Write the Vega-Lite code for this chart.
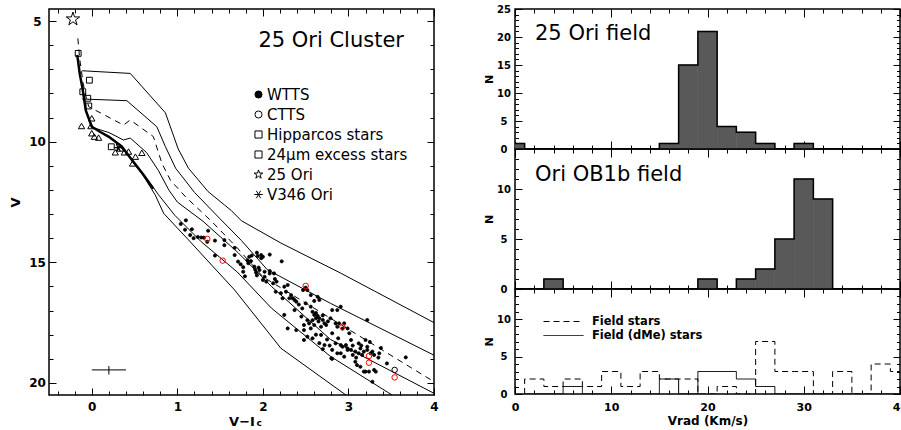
{
  "$schema": "https://vega.github.io/schema/vega-lite/v6.json",
  "background": "white",
  "padding": {"left": 8, "top": 3, "right": 0, "bottom": 0},
  "bounds": "flush",
  "spacing": 81,
  "resolve": {"scale": {"strokeDash": "independent", "shape": "independent", "fill": "independent", "stroke": "independent"}, "legend": {"strokeDash": "independent", "shape": "independent", "fill": "independent", "stroke": "independent"}},
  "config": {
    "view": {"stroke": "black", "strokeWidth": 1.5},
    "font": "DejaVu Sans",
    "axis": {"domain": false, "grid": false, "tickColor": "black", "tickWidth": 1, "labelColor": "black", "titleColor": "black", "labelFont": "DejaVu Sans", "titleFont": "DejaVu Sans", "labelFontWeight": "bold", "titleFontWeight": "bold", "labelAngle": 0, "labelFlush": false, "labelOverlap": false, "labelBound": false},
    "title": {"color": "black", "font": "DejaVu Sans", "fontWeight": "normal"},
    "legend": {"labelColor": "black", "labelFont": "DejaVu Sans", "titleColor": "black"}
  },
  "datasets": {
    "iso": [
      {"id": "A", "x": -0.113, "v": 7.06}, {"id": "A", "x": 0.45, "v": 7.17}, {"id": "A", "x": 0.86, "v": 8.8}, {"id": "A", "x": 1.01, "v": 10.3}, {"id": "A", "x": 1.13, "v": 11.1}, {"id": "A", "x": 1.36, "v": 12.07}, {"id": "A", "x": 1.55, "v": 12.62}, {"id": "A", "x": 1.63, "v": 12.85}, {"id": "A", "x": 1.75, "v": 13.28}, {"id": "A", "x": 2.21, "v": 14.2}, {"id": "A", "x": 2.91, "v": 15.45}, {"id": "A", "x": 4.0, "v": 17.5},
      {"id": "B", "x": -0.113, "v": 8.23}, {"id": "B", "x": 0.41, "v": 8.3}, {"id": "B", "x": 0.76, "v": 9.38}, {"id": "B", "x": 0.86, "v": 10.2}, {"id": "B", "x": 0.98, "v": 11.1}, {"id": "B", "x": 1.2, "v": 12.1}, {"id": "B", "x": 1.5, "v": 13.2}, {"id": "B", "x": 1.75, "v": 14.1}, {"id": "B", "x": 2.05, "v": 15.3}, {"id": "B", "x": 2.79, "v": 16.7}, {"id": "B", "x": 4.0, "v": 18.85},
      {"id": "D", "x": 0.0, "v": 9.4}, {"id": "D", "x": 0.2, "v": 9.62}, {"id": "D", "x": 0.37, "v": 9.93}, {"id": "D", "x": 0.45, "v": 9.85}, {"id": "D", "x": 0.64, "v": 10.45}, {"id": "D", "x": 0.78, "v": 11.2}, {"id": "D", "x": 0.9, "v": 12.0}, {"id": "D", "x": 1.0, "v": 12.5}, {"id": "D", "x": 1.3, "v": 13.3}, {"id": "D", "x": 1.71, "v": 14.6}, {"id": "D", "x": 2.1, "v": 16.0}, {"id": "D", "x": 2.79, "v": 18.2}, {"id": "D", "x": 4.0, "v": 20.43},
      {"id": "E", "x": 0.47, "v": 10.76}, {"id": "E", "x": 0.6, "v": 11.35}, {"id": "E", "x": 0.72, "v": 11.9}, {"id": "E", "x": 0.78, "v": 12.2}, {"id": "E", "x": 0.97, "v": 13.05}, {"id": "E", "x": 1.28, "v": 14.15}, {"id": "E", "x": 1.7, "v": 15.4}, {"id": "E", "x": 2.1, "v": 16.9}, {"id": "E", "x": 2.79, "v": 18.9}, {"id": "E", "x": 3.51, "v": 20.5},
      {"id": "F", "x": 0.47, "v": 10.8}, {"id": "F", "x": 0.6, "v": 11.4}, {"id": "F", "x": 0.74, "v": 12.2}, {"id": "F", "x": 0.84, "v": 12.97}, {"id": "F", "x": 1.13, "v": 14.07}, {"id": "F", "x": 1.67, "v": 16.15}, {"id": "F", "x": 2.21, "v": 18.56}, {"id": "F", "x": 2.97, "v": 20.5}
    ],
    "dash": [
      {"x": -0.163, "v": 5.72}, {"x": -0.14, "v": 6.6}, {"x": -0.1, "v": 7.6}, {"x": -0.06, "v": 8.25}, {"x": -0.035, "v": 8.55}, {"x": 0.37, "v": 9.31}, {"x": 0.45, "v": 9.1}, {"x": 0.72, "v": 9.79}, {"x": 0.82, "v": 10.9}, {"x": 0.92, "v": 11.6}, {"x": 1.1, "v": 12.3}, {"x": 1.4, "v": 13.3}, {"x": 1.7, "v": 14.4}, {"x": 2.0, "v": 15.6}, {"x": 2.79, "v": 17.32}, {"x": 4.0, "v": 19.95}
    ],
    "zams": [
      {"x": -0.17, "v": 6.4}, {"x": -0.14, "v": 7.2}, {"x": -0.11, "v": 7.75}, {"x": -0.07, "v": 8.7}, {"x": 0.0, "v": 9.38}, {"x": 0.1, "v": 9.6}, {"x": 0.2, "v": 9.8}, {"x": 0.35, "v": 10.2}, {"x": 0.47, "v": 10.76}, {"x": 0.6, "v": 11.35}, {"x": 0.72, "v": 11.95}
    ],
    "wtts": [
      {"x": 1.04, "v": 13.41, "type": "WTTS"}, {"x": 1.1, "v": 13.26, "type": "WTTS"}, {"x": 1.09, "v": 13.65, "type": "WTTS"}, {"x": 1.17, "v": 13.63, "type": "WTTS"}, {"x": 1.15, "v": 13.87, "type": "WTTS"}, {"x": 1.19, "v": 14.0, "type": "WTTS"}, {"x": 1.24, "v": 13.95, "type": "WTTS"}, {"x": 1.28, "v": 13.97, "type": "WTTS"}, {"x": 1.31, "v": 13.98, "type": "WTTS"}, {"x": 1.36, "v": 13.69, "type": "WTTS"}, {"x": 1.35, "v": 14.15, "type": "WTTS"}, {"x": 1.44, "v": 14.1, "type": "WTTS"}, {"x": 1.55, "v": 14.08, "type": "WTTS"}, {"x": 1.55, "v": 14.29, "type": "WTTS"}, {"x": 1.44, "v": 14.72, "type": "WTTS"},
      {"x": 1.67, "v": 14.4, "type": "WTTS"}, {"x": 1.67, "v": 14.7, "type": "WTTS"}, {"x": 1.71, "v": 14.97, "type": "WTTS"}, {"x": 1.74, "v": 15.08, "type": "WTTS"}, {"x": 1.77, "v": 15.2, "type": "WTTS"}, {"x": 1.77, "v": 15.39, "type": "WTTS"}, {"x": 1.79, "v": 15.58, "type": "WTTS"}, {"x": 1.83, "v": 15.04, "type": "WTTS"}, {"x": 1.82, "v": 14.92, "type": "WTTS"}, {"x": 1.84, "v": 14.77, "type": "WTTS"}, {"x": 1.87, "v": 14.72, "type": "WTTS"}, {"x": 1.86, "v": 14.95, "type": "WTTS"}, {"x": 1.93, "v": 14.6, "type": "WTTS"}, {"x": 1.94, "v": 14.74, "type": "WTTS"}, {"x": 1.98, "v": 14.7, "type": "WTTS"}, {"x": 1.98, "v": 14.83, "type": "WTTS"}, {"x": 2.0, "v": 14.77, "type": "WTTS"}, {"x": 2.08, "v": 14.68, "type": "WTTS"}, {"x": 2.22, "v": 14.96, "type": "WTTS"},
      {"x": 1.9, "v": 15.18, "type": "WTTS"}, {"x": 1.91, "v": 15.3, "type": "WTTS"}, {"x": 1.92, "v": 15.42, "type": "WTTS"}, {"x": 1.93, "v": 15.54, "type": "WTTS"}, {"x": 1.96, "v": 15.32, "type": "WTTS"}, {"x": 1.95, "v": 15.22, "type": "WTTS"}, {"x": 2.02, "v": 15.39, "type": "WTTS"}, {"x": 2.02, "v": 15.6, "type": "WTTS"}, {"x": 2.04, "v": 15.8, "type": "WTTS"}, {"x": 2.08, "v": 15.46, "type": "WTTS"}, {"x": 2.13, "v": 15.46, "type": "WTTS"}, {"x": 2.08, "v": 15.36, "type": "WTTS"}, {"x": 2.0, "v": 15.73, "type": "WTTS"}, {"x": 2.12, "v": 15.87, "type": "WTTS"}, {"x": 2.14, "v": 15.69, "type": "WTTS"}, {"x": 2.16, "v": 15.8, "type": "WTTS"},
      {"x": 2.15, "v": 16.22, "type": "WTTS"}, {"x": 2.25, "v": 16.01, "type": "WTTS"}, {"x": 2.27, "v": 16.22, "type": "WTTS"}, {"x": 2.29, "v": 15.94, "type": "WTTS"}, {"x": 2.21, "v": 16.28, "type": "WTTS"}, {"x": 2.33, "v": 16.36, "type": "WTTS"}, {"x": 2.37, "v": 16.56, "type": "WTTS"}, {"x": 2.39, "v": 16.63, "type": "WTTS"}, {"x": 2.35, "v": 16.49, "type": "WTTS"}, {"x": 2.31, "v": 16.49, "type": "WTTS"}, {"x": 2.23, "v": 16.49, "type": "WTTS"}, {"x": 2.47, "v": 16.15, "type": "WTTS"}, {"x": 2.52, "v": 16.15, "type": "WTTS"}, {"x": 2.56, "v": 16.36, "type": "WTTS"}, {"x": 2.64, "v": 16.43, "type": "WTTS"}, {"x": 2.66, "v": 16.56, "type": "WTTS"}, {"x": 2.5, "v": 16.05, "type": "WTTS"},
      {"x": 2.37, "v": 16.98, "type": "WTTS"}, {"x": 2.46, "v": 16.91, "type": "WTTS"}, {"x": 2.56, "v": 16.84, "type": "WTTS"}, {"x": 2.62, "v": 17.32, "type": "WTTS"}, {"x": 2.6, "v": 17.18, "type": "WTTS"}, {"x": 2.66, "v": 17.32, "type": "WTTS"}, {"x": 2.7, "v": 17.39, "type": "WTTS"}, {"x": 2.72, "v": 17.53, "type": "WTTS"}, {"x": 2.68, "v": 17.67, "type": "WTTS"}, {"x": 2.74, "v": 17.6, "type": "WTTS"}, {"x": 2.81, "v": 16.98, "type": "WTTS"}, {"x": 2.87, "v": 16.98, "type": "WTTS"}, {"x": 2.89, "v": 17.53, "type": "WTTS"}, {"x": 2.95, "v": 17.53, "type": "WTTS"}, {"x": 2.99, "v": 17.74, "type": "WTTS"}, {"x": 2.25, "v": 17.18, "type": "WTTS"}, {"x": 2.29, "v": 17.74, "type": "WTTS"}, {"x": 2.45, "v": 17.25, "type": "WTTS"}, {"x": 2.54, "v": 17.53, "type": "WTTS"}, {"x": 2.56, "v": 17.74, "type": "WTTS"}, {"x": 2.79, "v": 17.32, "type": "WTTS"},
      {"x": 2.58, "v": 17.05, "type": "WTTS"}, {"x": 2.62, "v": 17.1, "type": "WTTS"}, {"x": 2.64, "v": 17.22, "type": "WTTS"}, {"x": 2.58, "v": 17.4, "type": "WTTS"}, {"x": 2.65, "v": 17.45, "type": "WTTS"}, {"x": 2.6, "v": 17.6, "type": "WTTS"}, {"x": 2.7, "v": 17.2, "type": "WTTS"}, {"x": 2.52, "v": 17.4, "type": "WTTS"}, {"x": 2.48, "v": 17.6, "type": "WTTS"}, {"x": 2.76, "v": 17.45, "type": "WTTS"}, {"x": 2.42, "v": 16.75, "type": "WTTS"}, {"x": 2.5, "v": 16.7, "type": "WTTS"}, {"x": 2.6, "v": 16.6, "type": "WTTS"}, {"x": 2.91, "v": 16.84, "type": "WTTS"}, {"x": 3.22, "v": 17.39, "type": "WTTS"}, {"x": 2.85, "v": 17.53, "type": "WTTS"}, {"x": 2.87, "v": 17.67, "type": "WTTS"}, {"x": 2.93, "v": 17.75, "type": "WTTS"},
      {"x": 2.48, "v": 17.81, "type": "WTTS"}, {"x": 2.39, "v": 17.81, "type": "WTTS"}, {"x": 2.52, "v": 18.08, "type": "WTTS"}, {"x": 2.48, "v": 18.22, "type": "WTTS"}, {"x": 2.58, "v": 18.15, "type": "WTTS"}, {"x": 2.68, "v": 18.01, "type": "WTTS"}, {"x": 2.72, "v": 18.43, "type": "WTTS"}, {"x": 2.81, "v": 18.63, "type": "WTTS"}, {"x": 2.8, "v": 18.98, "type": "WTTS"}, {"x": 2.91, "v": 18.77, "type": "WTTS"}, {"x": 2.93, "v": 18.5, "type": "WTTS"}, {"x": 2.99, "v": 18.57, "type": "WTTS"}, {"x": 3.03, "v": 18.22, "type": "WTTS"}, {"x": 3.03, "v": 18.63, "type": "WTTS"}, {"x": 3.05, "v": 18.84, "type": "WTTS"}, {"x": 3.08, "v": 18.7, "type": "WTTS"}, {"x": 3.12, "v": 18.77, "type": "WTTS"}, {"x": 3.14, "v": 18.57, "type": "WTTS"}, {"x": 3.16, "v": 18.84, "type": "WTTS"}, {"x": 3.22, "v": 18.5, "type": "WTTS"}, {"x": 3.2, "v": 18.22, "type": "WTTS"}, {"x": 3.26, "v": 18.77, "type": "WTTS"}, {"x": 3.3, "v": 18.84, "type": "WTTS"},
      {"x": 3.1, "v": 19.26, "type": "WTTS"}, {"x": 3.14, "v": 19.33, "type": "WTTS"}, {"x": 3.2, "v": 19.53, "type": "WTTS"}, {"x": 3.24, "v": 19.53, "type": "WTTS"}, {"x": 3.32, "v": 19.53, "type": "WTTS"}, {"x": 3.28, "v": 19.95, "type": "WTTS"}, {"x": 3.45, "v": 19.19, "type": "WTTS"}, {"x": 3.67, "v": 18.94, "type": "WTTS"}, {"x": 2.81, "v": 17.94, "type": "WTTS"}, {"x": 2.85, "v": 18.36, "type": "WTTS"}, {"x": 2.91, "v": 18.43, "type": "WTTS"}, {"x": 3.01, "v": 17.94, "type": "WTTS"}, {"x": 2.97, "v": 18.43, "type": "WTTS"}, {"x": 2.99, "v": 18.63, "type": "WTTS"}, {"x": 3.12, "v": 18.36, "type": "WTTS"}, {"x": 3.18, "v": 18.7, "type": "WTTS"}, {"x": 3.22, "v": 18.63, "type": "WTTS"}, {"x": 3.28, "v": 18.7, "type": "WTTS"}, {"x": 3.36, "v": 18.77, "type": "WTTS"}, {"x": 3.18, "v": 19.53, "type": "WTTS"}, {"x": 3.3, "v": 19.46, "type": "WTTS"},
      {"x": 2.87, "v": 18.77, "type": "WTTS"}, {"x": 2.81, "v": 19.0, "type": "WTTS"}, {"x": 2.95, "v": 18.91, "type": "WTTS"}, {"x": 3.08, "v": 19.12, "type": "WTTS"}, {"x": 2.62, "v": 18.0, "type": "WTTS"}, {"x": 2.75, "v": 18.2, "type": "WTTS"}, {"x": 2.88, "v": 18.15, "type": "WTTS"}, {"x": 2.66, "v": 18.35, "type": "WTTS"}, {"x": 2.78, "v": 18.45, "type": "WTTS"}, {"x": 3.05, "v": 18.45, "type": "WTTS"}, {"x": 3.15, "v": 18.45, "type": "WTTS"}, {"x": 3.25, "v": 18.3, "type": "WTTS"}, {"x": 3.09, "v": 18.95, "type": "WTTS"}, {"x": 2.7, "v": 18.6, "type": "WTTS"}, {"x": 3.35, "v": 18.95, "type": "WTTS"}, {"x": 3.38, "v": 18.55, "type": "WTTS"}
    ],
    "ctts": [
      {"x": 1.35, "v": 14.03, "cls": "CTTS1"}, {"x": 1.53, "v": 14.93, "cls": "CTTS1"}, {"x": 2.5, "v": 15.98, "cls": "CTTS1"}, {"x": 2.93, "v": 17.67, "cls": "CTTS1"}, {"x": 3.24, "v": 18.88, "cls": "CTTS1"}, {"x": 3.24, "v": 19.16, "cls": "CTTS1"}, {"x": 3.54, "v": 19.77, "cls": "CTTS1"}, {"x": 3.54, "v": 19.46, "cls": "CTTS2"}
    ],
    "hip": [
      {"x": -0.159, "v": 6.34}, {"x": -0.028, "v": 7.45}, {"x": -0.105, "v": 7.93}, {"x": -0.047, "v": 8.2}, {"x": -0.035, "v": 8.52}, {"x": 0.228, "v": 10.21}
    ],
    "tri": [
      {"x": 0.0, "v": 9.03}, {"x": -0.12, "v": 9.35}, {"x": -0.01, "v": 9.35}, {"x": 0.0, "v": 9.65}, {"x": 0.03, "v": 9.79}, {"x": 0.08, "v": 9.83}, {"x": 0.275, "v": 10.44}, {"x": 0.333, "v": 10.28}, {"x": 0.38, "v": 10.44}, {"x": 0.43, "v": 10.41}, {"x": 0.51, "v": 10.62}, {"x": 0.585, "v": 10.46}, {"x": 0.477, "v": 10.9}
    ],
    "star": [{"x": -0.22, "v": 4.92}],
    "v346": [{"x": 0.31, "v": 10.25}],
    "err": [{"x": 0.2, "v": 19.46, "xlo": 0.0, "xhi": 0.4, "vlo": 19.3, "vhi": 19.65}],
    "h25": [
      {"lo": -1, "hi": 1, "n": 1}, {"lo": 1, "hi": 3, "n": 0}, {"lo": 3, "hi": 5, "n": 0}, {"lo": 5, "hi": 7, "n": 0}, {"lo": 7, "hi": 9, "n": 0}, {"lo": 9, "hi": 11, "n": 0}, {"lo": 11, "hi": 13, "n": 0}, {"lo": 13, "hi": 15, "n": 0}, {"lo": 15, "hi": 17, "n": 1}, {"lo": 17, "hi": 19, "n": 15}, {"lo": 19, "hi": 21, "n": 21}, {"lo": 21, "hi": 23, "n": 4}, {"lo": 23, "hi": 25, "n": 3}, {"lo": 25, "hi": 27, "n": 1}, {"lo": 27, "hi": 29, "n": 0}, {"lo": 29, "hi": 31, "n": 1}, {"lo": 31, "hi": 33, "n": 0}, {"lo": 33, "hi": 35, "n": 0}, {"lo": 35, "hi": 37, "n": 0}, {"lo": 37, "hi": 39, "n": 0}, {"lo": 39, "hi": 41, "n": 0}
    ],
    "hob": [
      {"lo": -1, "hi": 1, "n": 0}, {"lo": 1, "hi": 3, "n": 0}, {"lo": 3, "hi": 5, "n": 1}, {"lo": 5, "hi": 7, "n": 0}, {"lo": 7, "hi": 9, "n": 0}, {"lo": 9, "hi": 11, "n": 0}, {"lo": 11, "hi": 13, "n": 0}, {"lo": 13, "hi": 15, "n": 0}, {"lo": 15, "hi": 17, "n": 0}, {"lo": 17, "hi": 19, "n": 0}, {"lo": 19, "hi": 21, "n": 1}, {"lo": 21, "hi": 23, "n": 0}, {"lo": 23, "hi": 25, "n": 1}, {"lo": 25, "hi": 27, "n": 2}, {"lo": 27, "hi": 29, "n": 5}, {"lo": 29, "hi": 31, "n": 11}, {"lo": 31, "hi": 33, "n": 9}, {"lo": 33, "hi": 35, "n": 0}, {"lo": 35, "hi": 37, "n": 0}, {"lo": 37, "hi": 39, "n": 0}, {"lo": 39, "hi": 41, "n": 0}
    ],
    "fld": [
      {"lo": -1, "hi": 1, "n": 0, "s": "Field stars"}, {"lo": 1, "hi": 3, "n": 2, "s": "Field stars"}, {"lo": 3, "hi": 5, "n": 1, "s": "Field stars"}, {"lo": 5, "hi": 7, "n": 2, "s": "Field stars"}, {"lo": 7, "hi": 9, "n": 1, "s": "Field stars"}, {"lo": 9, "hi": 11, "n": 3, "s": "Field stars"}, {"lo": 11, "hi": 13, "n": 1, "s": "Field stars"}, {"lo": 13, "hi": 15, "n": 3, "s": "Field stars"}, {"lo": 15, "hi": 17, "n": 2, "s": "Field stars"}, {"lo": 17, "hi": 19, "n": 2, "s": "Field stars"}, {"lo": 19, "hi": 21, "n": 0, "s": "Field stars"}, {"lo": 21, "hi": 23, "n": 1, "s": "Field stars"}, {"lo": 23, "hi": 25, "n": 0, "s": "Field stars"}, {"lo": 25, "hi": 27, "n": 7, "s": "Field stars"}, {"lo": 27, "hi": 29, "n": 3, "s": "Field stars"}, {"lo": 29, "hi": 31, "n": 3, "s": "Field stars"}, {"lo": 31, "hi": 33, "n": 0, "s": "Field stars"}, {"lo": 33, "hi": 35, "n": 3, "s": "Field stars"}, {"lo": 35, "hi": 37, "n": 0, "s": "Field stars"}, {"lo": 37, "hi": 39, "n": 4, "s": "Field stars"}, {"lo": 39, "hi": 41, "n": 3, "s": "Field stars"},
      {"lo": -1, "hi": 1, "n": 0, "s": "Field (dMe) stars"}, {"lo": 1, "hi": 3, "n": 0, "s": "Field (dMe) stars"}, {"lo": 3, "hi": 5, "n": 0, "s": "Field (dMe) stars"}, {"lo": 5, "hi": 7, "n": 1, "s": "Field (dMe) stars"}, {"lo": 7, "hi": 9, "n": 0, "s": "Field (dMe) stars"}, {"lo": 9, "hi": 11, "n": 0, "s": "Field (dMe) stars"}, {"lo": 11, "hi": 13, "n": 0, "s": "Field (dMe) stars"}, {"lo": 13, "hi": 15, "n": 0, "s": "Field (dMe) stars"}, {"lo": 15, "hi": 17, "n": 2, "s": "Field (dMe) stars"}, {"lo": 17, "hi": 19, "n": 0, "s": "Field (dMe) stars"}, {"lo": 19, "hi": 21, "n": 3, "s": "Field (dMe) stars"}, {"lo": 21, "hi": 23, "n": 3, "s": "Field (dMe) stars"}, {"lo": 23, "hi": 25, "n": 2, "s": "Field (dMe) stars"}, {"lo": 25, "hi": 27, "n": 1, "s": "Field (dMe) stars"}, {"lo": 27, "hi": 29, "n": 0, "s": "Field (dMe) stars"}, {"lo": 29, "hi": 31, "n": 0, "s": "Field (dMe) stars"}, {"lo": 31, "hi": 33, "n": 0, "s": "Field (dMe) stars"}, {"lo": 33, "hi": 35, "n": 0, "s": "Field (dMe) stars"}, {"lo": 35, "hi": 37, "n": 0, "s": "Field (dMe) stars"}, {"lo": 37, "hi": 39, "n": 0, "s": "Field (dMe) stars"}, {"lo": 39, "hi": 41, "n": 0, "s": "Field (dMe) stars"}
    ]
  },
  "hconcat": [
    {
      "width": 385,
      "height": 386,
      "title": {"text": "25 Ori Cluster", "anchor": "end", "frame": "group", "offset": -59, "dx": -30, "fontSize": 21, "baseline": "alphabetic"},
      "resolve": {"axis": {"x": "independent", "y": "independent"}},
      "layer": [
        {
          "data": {"name": "iso"},
          "mark": {"type": "line", "color": "black", "strokeWidth": 1, "clip": true},
          "encoding": {
            "x": {"field": "x", "type": "quantitative", "scale": {"domain": [-0.5, 4], "nice": false, "zero": false}, "axis": {"orient": "bottom", "values": [0, 1, 2, 3, 4], "format": "d", "tickSize": -7, "labelFontSize": 12, "labelPadding": 13, "title": "V−I", "titleFontSize": 13, "titlePadding": 3}},
            "y": {"field": "v", "type": "quantitative", "scale": {"domain": [4.5, 20.5], "reverse": true, "nice": false, "zero": false}, "axis": {"orient": "left", "values": [5, 10, 15, 20], "format": "d", "tickSize": -7, "labelFontSize": 12, "labelPadding": 19, "labelAlign": "center", "labelBaseline": "middle", "title": "V", "titleFontSize": 13, "titlePadding": 6}},
            "detail": {"field": "id"}
          }
        },
        {
          "data": {"name": "dash"},
          "mark": {"type": "line", "color": "black", "strokeWidth": 1, "strokeDash": [6, 5], "clip": true},
          "encoding": {
            "x": {"field": "x", "type": "quantitative", "scale": {"domain": [-0.5, 4], "nice": false, "zero": false}, "axis": {"orient": "bottom", "values": [-0.4, -0.2, 0.2, 0.4, 0.6, 0.8, 1.2, 1.4, 1.6, 1.8, 2.2, 2.4, 2.6, 2.8, 3.2, 3.4, 3.6, 3.8], "tickSize": -4, "labels": false, "title": "c", "titleFontSize": 9, "titleX": 207, "titleY": 30, "titleAlign": "left", "titleBaseline": "alphabetic"}},
            "y": {"field": "v", "type": "quantitative", "scale": {"domain": [4.5, 20.5], "reverse": true, "nice": false, "zero": false}, "axis": {"orient": "left", "values": [6, 7, 8, 9, 11, 12, 13, 14, 16, 17, 18, 19], "tickSize": -4, "labels": false, "title": null}}
          }
        },
        {
          "data": {"name": "zams"},
          "mark": {"type": "line", "color": "black", "strokeWidth": 2.5, "clip": true},
          "encoding": {
            "x": {"field": "x", "type": "quantitative", "scale": {"domain": [-0.5, 4], "nice": false, "zero": false}, "axis": {"orient": "top", "values": [0, 1, 2, 3, 4], "tickSize": -7, "labels": false, "title": null}},
            "y": {"field": "v", "type": "quantitative", "scale": {"domain": [4.5, 20.5], "reverse": true, "nice": false, "zero": false}, "axis": {"orient": "right", "values": [5, 10, 15, 20], "tickSize": -7, "labels": false, "title": null}}
          }
        },
        {
          "data": {"name": "tri"},
          "mark": {"type": "point", "shape": "triangle-up", "size": 40, "filled": false, "color": "black", "strokeWidth": 1, "opacity": 1},
          "encoding": {
            "x": {"field": "x", "type": "quantitative", "scale": {"domain": [-0.5, 4], "nice": false, "zero": false}, "axis": {"orient": "top", "values": [-0.4, -0.2, 0.2, 0.4, 0.6, 0.8, 1.2, 1.4, 1.6, 1.8, 2.2, 2.4, 2.6, 2.8, 3.2, 3.4, 3.6, 3.8], "tickSize": -4, "labels": false, "title": null}},
            "y": {"field": "v", "type": "quantitative", "scale": {"domain": [4.5, 20.5], "reverse": true, "nice": false, "zero": false}, "axis": {"orient": "right", "values": [6, 7, 8, 9, 11, 12, 13, 14, 16, 17, 18, 19], "tickSize": -4, "labels": false, "title": null}}
          }
        },
        {
          "data": {"name": "wtts"},
          "mark": {"type": "point", "filled": false, "color": "black", "size": 10, "strokeWidth": 0.8, "opacity": 1},
          "encoding": {
            "x": {"field": "x", "type": "quantitative", "scale": {"domain": [-0.5, 4], "nice": false, "zero": false}, "axis": null},
            "y": {"field": "v", "type": "quantitative", "scale": {"domain": [4.5, 20.5], "reverse": true, "nice": false, "zero": false}, "axis": null},
            "shape": {"field": "type", "type": "nominal", "scale": {"domain": ["WTTS", "CTTS", "Hipparcos stars", "24μm excess stars", "25 Ori", "V346 Ori"], "range": ["circle", "circle", "square", "square", "M0,-1.3L0.29,-0.4L1.24,-0.4L0.47,0.15L0.76,1.05L0,0.5L-0.76,1.05L-0.47,0.15L-1.24,-0.4L-0.29,-0.4Z", "M-1.2,0L1.2,0M-0.6,-1.04L0.6,1.04M-0.6,1.04L0.6,-1.04"]}, "legend": {"orient": "none", "legendX": 202, "legendY": 78, "title": null, "labelFontSize": 15, "labelOffset": 1, "rowPadding": 4, "symbolSize": 50, "symbolStrokeColor": "black", "symbolStrokeWidth": 1, "padding": 0}},
            "fill": {"field": "type", "type": "nominal", "scale": {"domain": ["WTTS", "CTTS", "Hipparcos stars", "24μm excess stars", "25 Ori", "V346 Ori"], "range": ["black", "transparent", "transparent", "transparent", "transparent", "transparent"]}, "legend": {"orient": "none", "legendX": 202, "legendY": 78, "title": null, "labelFontSize": 15, "labelOffset": 1, "rowPadding": 4, "symbolSize": 50, "symbolStrokeColor": "black", "symbolStrokeWidth": 1, "padding": 0}},
            "stroke": {"field": "type", "type": "nominal", "scale": {"domain": ["WTTS", "CTTS", "Hipparcos stars", "24μm excess stars", "25 Ori", "V346 Ori"], "range": ["black", "black", "black", "black", "black", "black"]}, "legend": {"orient": "none", "legendX": 202, "legendY": 78, "title": null, "labelFontSize": 15, "labelOffset": 1, "rowPadding": 4, "symbolSize": 50, "symbolStrokeColor": "black", "symbolStrokeWidth": 1, "padding": 0}}
          }
        },
        {
          "data": {"name": "ctts"},
          "transform": [{"filter": "datum.cls === 'CTTS1'"}],
          "mark": {"type": "point", "shape": "circle", "size": 30, "filled": false, "color": "#ff0000", "strokeWidth": 1, "opacity": 1},
          "encoding": {
            "x": {"field": "x", "type": "quantitative", "scale": {"domain": [-0.5, 4], "nice": false, "zero": false}, "axis": null},
            "y": {"field": "v", "type": "quantitative", "scale": {"domain": [4.5, 20.5], "reverse": true, "nice": false, "zero": false}, "axis": null}
          }
        },
        {
          "data": {"name": "ctts"},
          "transform": [{"filter": "datum.cls === 'CTTS2'"}],
          "mark": {"type": "point", "shape": "circle", "size": 30, "filled": false, "color": "black", "strokeWidth": 1, "opacity": 1},
          "encoding": {
            "x": {"field": "x", "type": "quantitative", "scale": {"domain": [-0.5, 4], "nice": false, "zero": false}, "axis": null},
            "y": {"field": "v", "type": "quantitative", "scale": {"domain": [4.5, 20.5], "reverse": true, "nice": false, "zero": false}, "axis": null}
          }
        },
        {
          "data": {"name": "hip"},
          "mark": {"type": "point", "shape": "square", "size": 34, "filled": false, "color": "black", "strokeWidth": 1, "opacity": 1},
          "encoding": {
            "x": {"field": "x", "type": "quantitative", "scale": {"domain": [-0.5, 4], "nice": false, "zero": false}, "axis": null},
            "y": {"field": "v", "type": "quantitative", "scale": {"domain": [4.5, 20.5], "reverse": true, "nice": false, "zero": false}, "axis": null}
          }
        },
        {
          "data": {"name": "star"},
          "mark": {"type": "point", "shape": "M0,-1L0.225,-0.309L0.951,-0.309L0.363,0.118L0.588,0.809L0,0.382L-0.588,0.809L-0.363,0.118L-0.951,-0.309L-0.225,-0.309Z", "size": 200, "filled": false, "color": "black", "strokeWidth": 1, "opacity": 1},
          "encoding": {
            "x": {"field": "x", "type": "quantitative", "scale": {"domain": [-0.5, 4], "nice": false, "zero": false}, "axis": null},
            "y": {"field": "v", "type": "quantitative", "scale": {"domain": [4.5, 20.5], "reverse": true, "nice": false, "zero": false}, "axis": null}
          }
        },
        {
          "data": {"name": "v346"},
          "mark": {"type": "point", "shape": "M-1,0L1,0M-0.5,-0.866L0.5,0.866M-0.5,0.866L0.5,-0.866", "size": 70, "filled": false, "color": "black", "strokeWidth": 1.2, "opacity": 1},
          "encoding": {
            "x": {"field": "x", "type": "quantitative", "scale": {"domain": [-0.5, 4], "nice": false, "zero": false}, "axis": null},
            "y": {"field": "v", "type": "quantitative", "scale": {"domain": [4.5, 20.5], "reverse": true, "nice": false, "zero": false}, "axis": null}
          }
        },
        {
          "data": {"name": "err"},
          "mark": {"type": "rule", "color": "black", "strokeWidth": 1},
          "encoding": {
            "x": {"field": "xlo", "type": "quantitative", "scale": {"domain": [-0.5, 4], "nice": false, "zero": false}, "axis": null},
            "x2": {"field": "xhi"},
            "y": {"field": "v", "type": "quantitative", "scale": {"domain": [4.5, 20.5], "reverse": true, "nice": false, "zero": false}, "axis": null}
          }
        },
        {
          "data": {"name": "err"},
          "mark": {"type": "rule", "color": "black", "strokeWidth": 1},
          "encoding": {
            "x": {"field": "x", "type": "quantitative", "scale": {"domain": [-0.5, 4], "nice": false, "zero": false}, "axis": null},
            "y": {"field": "vlo", "type": "quantitative", "scale": {"domain": [4.5, 20.5], "reverse": true, "nice": false, "zero": false}, "axis": null},
            "y2": {"field": "vhi"}
          }
        }
      ]
    },
    {
      "spacing": 0,
      "bounds": "flush",
      "resolve": {"scale": {"strokeDash": "independent"}, "legend": {"strokeDash": "independent"}},
      "vconcat": [
        {
          "width": 385,
          "height": 140,
          "data": {"name": "h25"},
          "title": {"text": "25 Ori field", "anchor": "start", "frame": "group", "offset": -57, "dx": 20, "fontSize": 21, "baseline": "alphabetic"},
          "resolve": {"axis": {"x": "independent", "y": "independent"}},
          "layer": [
            {
              "mark": {"type": "rect", "fill": "#595959", "stroke": "#595959", "strokeWidth": 0.6, "clip": true},
              "encoding": {
                "x": {"field": "lo", "type": "quantitative", "scale": {"domain": [0, 40], "nice": false, "zero": false}, "axis": {"orient": "bottom", "values": [0, 10, 20, 30, 40], "tickSize": -8, "labels": false, "title": null}},
                "x2": {"field": "hi"},
                "y": {"field": "n", "type": "quantitative", "scale": {"domain": [0, 25], "nice": false, "zero": false}, "axis": {"orient": "left", "values": [0, 5, 10, 15, 20, 25], "format": "d", "tickSize": -7, "labelFontSize": 10, "labelPadding": 18.5, "labelAlign": "center", "labelBaseline": "middle", "title": "N", "titleFontSize": 11, "titlePadding": 2}},
                "y2": {"datum": 0}
              }
            },
            {
              "mark": {"type": "line", "interpolate": "step-after", "color": "black", "strokeWidth": 1.5, "clip": true},
              "encoding": {
                "x": {"field": "lo", "type": "quantitative", "scale": {"domain": [0, 40], "nice": false, "zero": false}, "axis": {"orient": "bottom", "values": [2, 4, 6, 8, 12, 14, 16, 18, 22, 24, 26, 28, 32, 34, 36, 38], "tickSize": -4, "labels": false, "title": null}},
                "y": {"field": "n", "type": "quantitative", "scale": {"domain": [0, 25], "nice": false, "zero": false}, "axis": {"orient": "left", "values": [1, 2, 3, 4, 6, 7, 8, 9, 11, 12, 13, 14, 16, 17, 18, 19, 21, 22, 23, 24], "tickSize": -3.5, "labels": false, "title": null}}
              }
            },
            {
              "mark": {"type": "point", "opacity": 0},
              "encoding": {
                "x": {"field": "lo", "type": "quantitative", "scale": {"domain": [0, 40], "nice": false, "zero": false}, "axis": {"orient": "top", "values": [0, 10, 20, 30, 40], "tickSize": -8, "labels": false, "title": null}},
                "y": {"field": "n", "type": "quantitative", "scale": {"domain": [0, 25], "nice": false, "zero": false}, "axis": {"orient": "right", "values": [0, 5, 10, 15, 20, 25], "tickSize": -7, "labels": false, "title": null}}
              }
            },
            {
              "mark": {"type": "point", "opacity": 0},
              "encoding": {
                "x": {"field": "lo", "type": "quantitative", "scale": {"domain": [0, 40], "nice": false, "zero": false}, "axis": {"orient": "top", "values": [2, 4, 6, 8, 12, 14, 16, 18, 22, 24, 26, 28, 32, 34, 36, 38], "tickSize": -4, "labels": false, "title": null}},
                "y": {"field": "n", "type": "quantitative", "scale": {"domain": [0, 25], "nice": false, "zero": false}, "axis": {"orient": "right", "values": [1, 2, 3, 4, 6, 7, 8, 9, 11, 12, 13, 14, 16, 17, 18, 19, 21, 22, 23, 24], "tickSize": -3.5, "labels": false, "title": null}}
              }
            }
          ]
        },
        {
          "width": 385,
          "height": 140,
          "data": {"name": "hob"},
          "title": {"text": "Ori OB1b field", "anchor": "start", "frame": "group", "offset": -53, "dx": 20, "fontSize": 21, "baseline": "alphabetic"},
          "resolve": {"axis": {"x": "independent", "y": "independent"}},
          "layer": [
            {
              "mark": {"type": "rect", "fill": "#595959", "stroke": "#595959", "strokeWidth": 0.6, "clip": true},
              "encoding": {
                "x": {"field": "lo", "type": "quantitative", "scale": {"domain": [0, 40], "nice": false, "zero": false}, "axis": {"orient": "bottom", "values": [0, 10, 20, 30, 40], "tickSize": -8, "labels": false, "title": null}},
                "x2": {"field": "hi"},
                "y": {"field": "n", "type": "quantitative", "scale": {"domain": [0, 14], "nice": false, "zero": false}, "axis": {"orient": "left", "values": [0, 5, 10], "format": "d", "tickSize": -7, "labelFontSize": 10, "labelPadding": 18.5, "labelAlign": "center", "labelBaseline": "middle", "title": "N", "titleFontSize": 11, "titlePadding": 2}},
                "y2": {"datum": 0}
              }
            },
            {
              "mark": {"type": "line", "interpolate": "step-after", "color": "black", "strokeWidth": 1.5, "clip": true},
              "encoding": {
                "x": {"field": "lo", "type": "quantitative", "scale": {"domain": [0, 40], "nice": false, "zero": false}, "axis": {"orient": "bottom", "values": [2, 4, 6, 8, 12, 14, 16, 18, 22, 24, 26, 28, 32, 34, 36, 38], "tickSize": -4, "labels": false, "title": null}},
                "y": {"field": "n", "type": "quantitative", "scale": {"domain": [0, 14], "nice": false, "zero": false}, "axis": {"orient": "left", "values": [1, 2, 3, 4, 6, 7, 8, 9, 11, 12, 13], "tickSize": -3.5, "labels": false, "title": null}}
              }
            },
            {
              "mark": {"type": "point", "opacity": 0},
              "encoding": {
                "x": {"field": "lo", "type": "quantitative", "scale": {"domain": [0, 40], "nice": false, "zero": false}, "axis": {"orient": "top", "values": [0, 10, 20, 30, 40], "tickSize": -8, "labels": false, "title": null}},
                "y": {"field": "n", "type": "quantitative", "scale": {"domain": [0, 14], "nice": false, "zero": false}, "axis": {"orient": "right", "values": [0, 5, 10], "tickSize": -7, "labels": false, "title": null}}
              }
            },
            {
              "mark": {"type": "point", "opacity": 0},
              "encoding": {
                "x": {"field": "lo", "type": "quantitative", "scale": {"domain": [0, 40], "nice": false, "zero": false}, "axis": {"orient": "top", "values": [2, 4, 6, 8, 12, 14, 16, 18, 22, 24, 26, 28, 32, 34, 36, 38], "tickSize": -4, "labels": false, "title": null}},
                "y": {"field": "n", "type": "quantitative", "scale": {"domain": [0, 14], "nice": false, "zero": false}, "axis": {"orient": "right", "values": [1, 2, 3, 4, 6, 7, 8, 9, 11, 12, 13], "tickSize": -3.5, "labels": false, "title": null}}
              }
            }
          ]
        },
        {
          "width": 385,
          "height": 105,
          "data": {"name": "fld"},
          "resolve": {"axis": {"x": "independent", "y": "independent"}},
          "layer": [
            {
              "mark": {"type": "line", "interpolate": "step-before", "color": "black", "strokeWidth": 1, "clip": true},
              "encoding": {
                "x": {"field": "hi", "type": "quantitative", "scale": {"domain": [0, 40], "nice": false, "zero": false}, "axis": {"orient": "bottom", "values": [0, 10, 20, 30, 40], "format": "d", "tickSize": -8, "labelFontSize": 11, "labelPadding": 15, "title": "Vrad (Km/s)", "titleFontSize": 12, "titlePadding": 3}},
                "y": {"field": "n", "type": "quantitative", "scale": {"domain": [0, 14], "nice": false, "zero": false}, "axis": {"orient": "left", "values": [0, 5, 10], "format": "d", "tickSize": -7, "labelFontSize": 10, "labelPadding": 18.5, "labelAlign": "center", "labelBaseline": "middle", "title": "N", "titleFontSize": 11, "titlePadding": 2}},
                "strokeDash": {"field": "s", "type": "nominal", "scale": {"domain": ["Field stars", "Field (dMe) stars"], "range": [[6, 4], [1, 0]]}, "legend": {"orient": "none", "legendX": 40, "legendY": 24, "title": null, "symbolType": "M-2.5,0L2.5,0", "symbolSize": 256, "symbolStrokeWidth": 1, "symbolStrokeColor": "black", "symbolFillColor": "transparent", "labelFontSize": 11.5, "labelFontWeight": "bold", "labelOffset": 20, "rowPadding": 0, "padding": 0}}
              }
            },
            {
              "mark": {"type": "point", "opacity": 0},
              "encoding": {
                "x": {"field": "hi", "type": "quantitative", "scale": {"domain": [0, 40], "nice": false, "zero": false}, "axis": {"orient": "bottom", "values": [2, 4, 6, 8, 12, 14, 16, 18, 22, 24, 26, 28, 32, 34, 36, 38], "tickSize": -4, "labels": false, "title": null}},
                "y": {"field": "n", "type": "quantitative", "scale": {"domain": [0, 14], "nice": false, "zero": false}, "axis": {"orient": "left", "values": [1, 2, 3, 4, 6, 7, 8, 9, 11, 12, 13], "tickSize": -3.5, "labels": false, "title": null}}
              }
            },
            {
              "mark": {"type": "point", "opacity": 0},
              "encoding": {
                "x": {"field": "hi", "type": "quantitative", "scale": {"domain": [0, 40], "nice": false, "zero": false}, "axis": {"orient": "top", "values": [0, 10, 20, 30, 40], "tickSize": -8, "labels": false, "title": null}},
                "y": {"field": "n", "type": "quantitative", "scale": {"domain": [0, 14], "nice": false, "zero": false}, "axis": {"orient": "right", "values": [0, 5, 10], "tickSize": -7, "labels": false, "title": null}}
              }
            },
            {
              "mark": {"type": "point", "opacity": 0},
              "encoding": {
                "x": {"field": "hi", "type": "quantitative", "scale": {"domain": [0, 40], "nice": false, "zero": false}, "axis": {"orient": "top", "values": [2, 4, 6, 8, 12, 14, 16, 18, 22, 24, 26, 28, 32, 34, 36, 38], "tickSize": -4, "labels": false, "title": null}},
                "y": {"field": "n", "type": "quantitative", "scale": {"domain": [0, 14], "nice": false, "zero": false}, "axis": {"orient": "right", "values": [1, 2, 3, 4, 6, 7, 8, 9, 11, 12, 13], "tickSize": -3.5, "labels": false, "title": null}}
              }
            }
          ]
        }
      ]
    }
  ]
}
